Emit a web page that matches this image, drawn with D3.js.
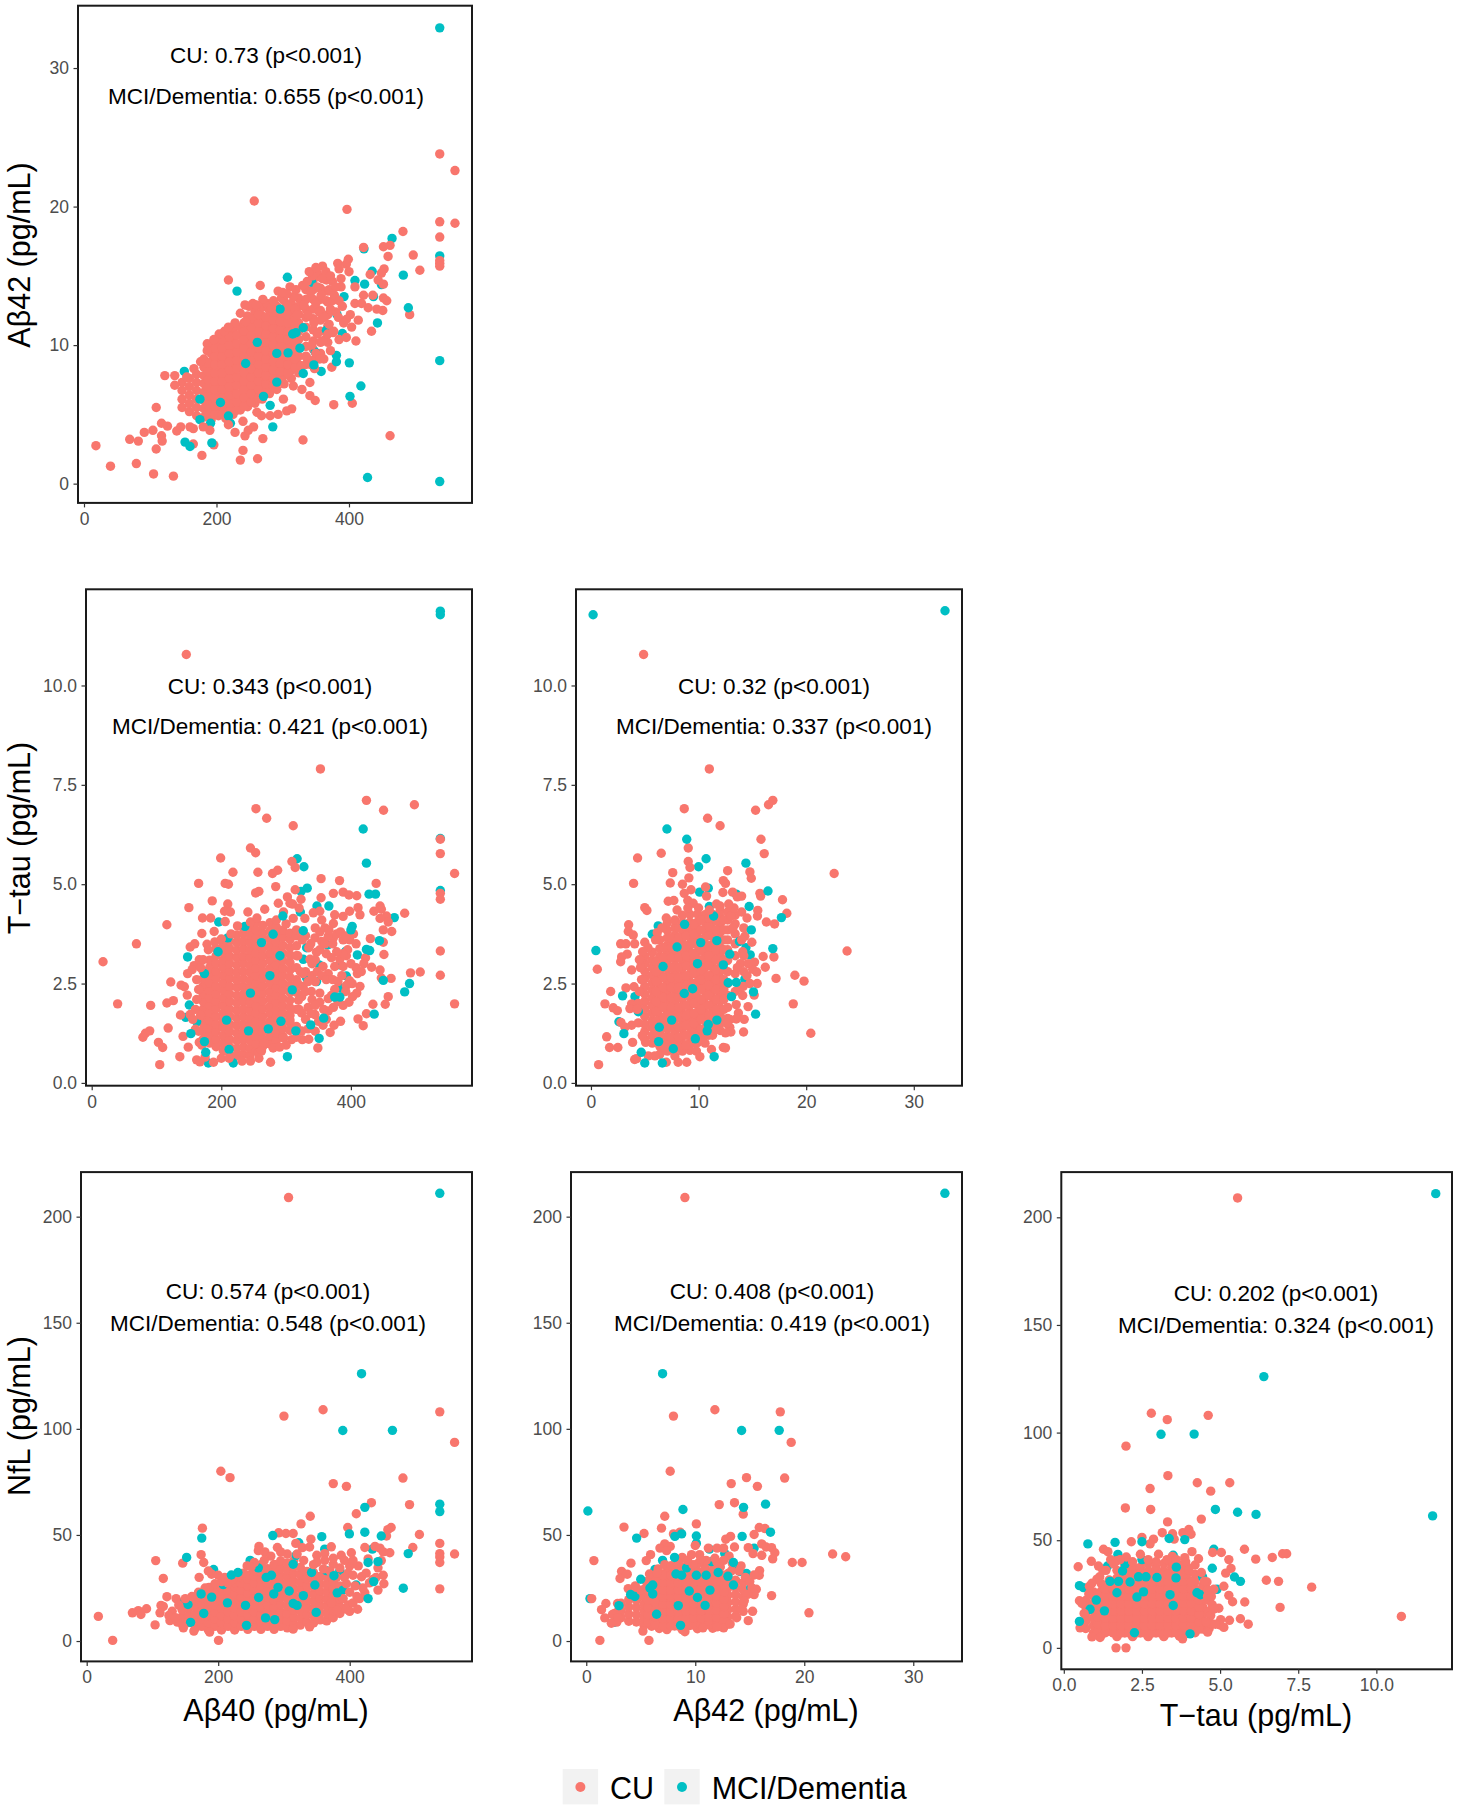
<!DOCTYPE html>
<html><head><meta charset="utf-8">
<script src="https://cdn.jsdelivr.net/npm/d3@7"></script>
<style>html,body{margin:0;padding:0;background:#fff}svg{display:block}text{font-family:"Liberation Sans",Arial,sans-serif}</style>
</head><body><div id="c"></div>
<script>
// All values are estimates. In the solid blobs individual points cannot be
// resolved, so those columns ([x, y, y, ...]) are hand-read estimates of the covered area.
const colors={CU:"#F8766D",MCI:"#00BFC4"};
const ticksAb40=[0,200,400], ticksAb42=[0,10,20,30], ticksTau=[0,2.5,5,7.5,10], ticksNfl=[0,50,100,150,200];

// --- Aβ42 vs Aβ40
const p1CU=[[18,2.74],[40,1.26],[69,3.2],[82,3.07],[79,1.45],[91,3.7],[104,3.85],[105,.7],[109,2.5],[109,5.5],[117,3.46],[118,3.07],[117,4.36],[126,4.15],[135,.54],[122,7.8],[137,7.8],[137,7.1],[537,23.8],[560,22.6],[537,18.9],[560,18.8],[537,17.8],[537,16.1],[537,15.9],[537,15.7],[257,20.4],[397,19.8],[481.5,18.2],[497,16.5],[507,15.4],[491.6,12.2],[462,3.46],[405,5.8],[377,5.7],[330.6,3.15],[262,1.8],[236,1.7],[240,2.4],[270,3.25],[178,2.04],[196,2.8],[165,2.86],[218,14.7],[266,14.3],[293,13.9],[311,14.2],[452,17.1],[462,17.2],[459,16.4],[422,17.05],[399,16.2],[383,15.9],[396,15.85],[385,15.5],[400,15.3],[388,14.8],[388,14.2],[409,14.2],[453,15.5],[432,15.1],[449,15.2],[444,14.7],[452,14.4],[422,13.6],[436,13.6],[452,13.4],[457,13.2],[409,13],[419,13],[429,12.7],[442,12.6],[451,12.5],[414,11.8],[402,12.2],[396,11.85],[404,11.3],[434,11],[410.5,10.3],[385,10.4],[396,10.55],[374,8.4],[349,6],[341,6.35],[341,7.3],[329,6.8],[316,7.05],[313.5,5.4],[301,6.1],[293,5],[306,5.25],[281,4.9],[268,4.9],[261,5.15],[256,4.1],[243,3.45],[248,3.85],[240,4.5],[228,3.7],[218,4.25],[190,3.85],[180,4.1],[165,3.97],[160,4.1],[146,4.1],[140,3.8],[255,13],[249,12.8],[243,12.9],[276,13],[283,12.7],[298,13.4],[360,15.7],[352,15.2],[366,14.7],[370,14],[375,13.2],[380,12.4],[384,12],[364,10.4],[372,9.6],[362,9],[348,8.3],[377,11],[186,10.1],[204,10.8],[212,11],[224,11.3],[244,11.7],[330,14.3],[337,14.6],[345,15],[352,14.2],[360,14.8],[358,13.6],[366,13.2],[372,12.6],[378,13.6],[350,13],[342,13.8],[332,12.9],[338,12.2],[347,11.6],[355,12.4],[363,12],[370,11.5],[376,10.9],[352,10.8],[360,10.3],[368,10.8],[344,10],[350,9.4],[336,9.1],[328,8.5],[342,8.6],[356,9],[322,12.2],[316,13.5],[306,13.7],[286,13.2],[270,13.3],[260,12.9],[236,12.3],[228,11.6],[218,11.3],[196,10.4],[186,9.6],[176,8.8],[166,8.3],[155,7.7],[300,13.8],[320,14],[340,15.3],[350,15.6],[365,15.3],[375,14.6],[380,14.2],[372,15],[385,13.2],[390,12.8],[392,11.6]];
const p1CUblob=[[148,5.5,6.1,6.72,7.3],[159,5.2,5.78,6.4,7,7.6],[170,4.9,5.5,6.1,6.72,7.3,7.9],[181,4.8,5.42,6,6.6,7.22,7.8,8.4,9],[192,4.62,5.2,5.8,6.42,7,7.6,8.2,8.82,9.4,10],[203,4.9,5.5,6.12,6.7,7.3,7.9,8.52,9.1,9.7,10.3],[214,4.7,5.3,5.9,6.5,7.12,7.7,8.3,8.9,9.5,10.12,10.7],[225,5,5.6,6.22,6.8,7.4,8,8.62,9.2,9.8,10.4,11],[236,5.32,5.9,6.5,7.1,7.7,8.32,8.9,9.5,10.1,10.72,11.3],[247,5.55,6.15,6.75,7.35,7.95,8.55,9.15,9.75,10.35,10.95,11.55,12.1],[258,5.8,6.4,7.02,7.6,8.2,8.8,9.42,10,10.6,11.2,11.82,12.4],[269,6.1,6.7,7.3,7.92,8.5,9.1,9.7,10.32,10.9,11.5,12.1,12.72],[280,6.5,7.1,7.7,8.3,8.92,9.5,10.1,10.7,11.32,11.9,12.5],[291,6.8,7.4,8,8.6,9.2,9.82,10.4,11,11.6,12.22,12.8],[302,7.2,7.8,8.4,9,9.62,10.2,10.8,11.4,12.02,12.6,13.2],[313,7.6,8.2,8.8,9.42,10,10.6,11.2,11.82,12.4,13],[324,8,8.6,9.2,9.82,10.4,11,11.6,12.22,12.8,13.4],[335,8.6,9.2,9.9,10.6,11.3,12,12.6,13.3,14],[346,8.9,9.7,10.3,11.1,11.9,12.6,13.3,14,14.7],[357,9.4,10.2,11,11.8,12.5,13.3,14.1,14.9],[368,10.2,11.4,12.2,13.1,13.9],
 [187,5.1,5.7,6.3,6.9,7.5,8.1,8.7],[197.5,5,5.6,6.2,6.8,7.4,8,8.6,9.2,9.8],[208.5,5,5.6,6.2,6.8,7.4,8,8.6,9.2,9.8,10.4],[219.5,5.2,5.8,6.4,7,7.6,8.2,8.8,9.4,10,10.6],[230.5,5.3,5.9,6.5,7.1,7.7,8.3,8.9,9.5,10.1,10.7],[241.5,5.6,6.2,6.8,7.4,8,8.6,9.2,9.8,10.4,11,11.6],[252.5,5.9,6.5,7.1,7.7,8.3,8.9,9.5,10.1,10.7,11.3,11.9],[263.5,6.2,6.8,7.4,8,8.6,9.2,9.8,10.4,11,11.6,12.2],[274.5,6.6,7.2,7.8,8.4,9,9.6,10.2,10.8,11.4,12],[285.5,7,7.6,8.2,8.8,9.4,10,10.6,11.2,11.8,12.4],[296.5,7.5,8.1,8.7,9.3,9.9,10.5,11.1,11.7,12.3],[307.5,8,8.6,9.2,9.8,10.4,11,11.6,12.2,12.8],[318.5,8.4,9,9.6,10.2,10.8,11.4,12,12.6]];
const p1MCIunder=[[537,16.44],[465,17.7],[435,15.33],[409,14.66],[423.6,14.4],[449,14.37],[343.6,14.55],[392.5,13.5],[437,13.5],[443,11.6],[382,12.2],[390,10.84],[366,11.07],[331,11.25],[296,12.6],[261.6,10.2],[381,9.26],[400.5,8.72],[358,8.1],[151.4,8.1],[175,6.1],[218,4.88],[175,4.62],[191,4.36],[221,4.36],[281,5.65],[349,9.5],[291,9.4],[422.6,16.95]];
const p1MCIover=[[537,32.9],[537,8.88],[537,.15],[428,.44],[482,15.05],[307,14.9],[231,13.9],[489.6,12.7],[315,10.8],[320,10.9],[308,9.44],[326,9.78],[381,8.8],[347,8.57],[331,7.95],[244,8.67],[291,7.33],[418,7.05],[401.5,6.3],[271,6.3],[206,5.86],[285,4.1],[152.5,3],[160,2.68],[193,2.94]];

// --- T-tau vs Aβ40
const p2CU=[[146,10.78],[353,7.9],[424,7.11],[498,7],[450.4,6.86],[253.5,6.9],[270,6.66],[311,6.47],[538,6.13],[538,5.77],[538,4.77],[538,4.62],[538,3.32],[538,2.71],[560,5.27],[560,1.99],[507,2.79],[492,2.77],[483,4.27],[245,5.91],[253,5.79],[199,5.66],[309,5.57],[314,5.42],[287,5.35],[279,5.27],[256.5,5.3],[218,5.3],[354,5.14],[382.5,5.09],[439,5.02],[165,5.02],[206,5.02],[211,5],[284,4.94],[314,4.86],[253,4.78],[258,4.82],[373,4.77],[388,4.8],[397,4.73],[409,4.71],[354,4.66],[302,4.68],[323,4.62],[186,4.58],[210,4.5],[288,4.52],[306,4.52],[150,4.41],[445,4.45],[435.5,4.32],[447,4.37],[205,4.32],[214,4.3],[241,4.3],[267,4.37],[171,4.15],[183.5,4.15],[206,4.06],[116,3.98],[455,4.2],[445,4.14],[457.6,4.05],[463,3.81],[450,3.85],[170,3.76],[189,3.81],[69,3.5],[152,3.42],[159,3.5],[178,3.49],[17.5,3.05],[40,1.99],[91,1.95],[116,2.01],[126,2.07],[122,2.54],[138,2.46],[143,2.42],[147.5,2.21],[79,1.15],[83,1.25],[89.5,1.31],[103,1.02],[109.5,.89],[105,.46],[118,1.38],[136,.66],[149,.9],[141,1.17],[137,1.71],[152,1.72],[162,.58],[167,.53],[188,.52],[166,1.02],[276,.52],[349,.88],[368,1.27],[374,1.45],[384,1.55],[411,1.61],[419,1.44],[424,1.74],[434,1.98],[453,1.98],[457.6,2.17],[447,2.64],[462,2.63],[414,2.43],[409,2.26],[402.6,2.17],[397,2.03],[432,2.91],[445,2.84],[451,3.23],[422.6,3.15],[450,3.54],[430,3.63],[410,2.75],[398,2.57],[373,1.9],[365,1.81],[357,1.45],[344.5,1.72],[334,1.9],[324,1.76],[325,1.09],[308.5,1.09],[296,1.13],[280,.88],[266,1],[257,.75],[393,3.2],[383,3.11],[373,3.65],[365,3.69],[398,3.6],[388,3.6],[373,4.01],[375,4.23],[388,4.19],[398,4.32],[411,4.41],[414,4.23],[352,4.32],[342,4.28],[355,4.1],[329,4.14],[311,4.14],[344.5,3.65],[355,3.56],[337,3.11],[347,3.29],[357,2.93],[365,2.75],[375,2.93],[388,2.93],[375,2.35],[352,2.26],[339,2.3],[326,2.43],[324,2.17],[319,2.08],[352,2.03],[365,2.12],[306,1.58],[324,1.31],[334,1.36],[162,2.6],[158,2.95],[166,3.1],[155,2.85],[148,2.75],[160,1.85],[156,1.6],[160,1.35],[170,.95],[330,2.8],[335,3.4],[330,3.7],[345,2.55],[340,3],[362,3.25],[320,4.4],[310,4.5],[325,3.6],[318,3.2],[322,2.8],[318,2.5],[326,2.75],[330,2.3],[334,2.55],[340,2.7],[338,3.5],[345,3.9],[352,3.8],[360,3.9],[366,3.85],[372,3.5],[378,3.75],[384,3.8],[392,3.7],[404,3.75],[408,3.5],[395,3.35],[388,3.25],[378,3.3],[370,3.15],[360,3.5],[352,3.35],[345,3.1],[348,2.8],[355,2.7],[362,2.6],[372,2.6],[380,2.55],[386,2.7],[393,2.45],[402,2.5],[408,2.9],[416,2.8],[420,3],[400,3],[340,2.1],[345,1.95],[358,1.85],[370,2.2],[380,2.05],[388,1.95],[392,2.3],[320,1.85],[330,1.6],[338,1.75],[350,1.55],[362,1.6],[345,1.3],[316,1.15],[335,1.1],[300,.95],[290,.9],[262,.8],[200,.62],[212,.62],[232,.55],[245,.55],[258,.62],[175,.65],[165,1.3],[168,1.7],[162,2.1],[165,2.35],[168,2.9],[172,3.1],[180,3.35],[190,3.55],[200,3.62],[215,3.75],[225,3.95],[245,4.05],[255,4.15],[285,4.1],[300,4],[296,4.3]];
const p2CUblob=[[172,1.1,1.29,1.49,1.67,1.86,2.05,2.24,2.44,2.62,2.81],[182,1,1.19,1.38,1.57,1.77,1.95,2.14,2.33,2.52,2.72,2.9,3.09],[192,.91,1.1,1.29,1.48,1.67,1.87,2.05,2.24,2.43,2.62,2.81,3,3.2,3.38],[203,.81,1,1.19,1.39,1.57,1.76,1.95,2.14,2.34,2.52,2.71,2.9,3.09,3.28,3.47],[213,.72,.91,1.1,1.29,1.48,1.68,1.86,2.05,2.24,2.43,2.63,2.81,3,3.19,3.38,3.57],[224,.68,.87,1.06,1.25,1.44,1.63,1.82,2.01,2.2,2.4,2.58,2.77,2.96,3.15,3.34,3.53,3.72],[234,.72,.91,1.11,1.29,1.48,1.67,1.86,2.06,2.24,2.43,2.62,2.81,3.01,3.19,3.38,3.57,3.76,3.9],[244,.68,.87,1.06,1.25,1.45,1.63,1.82,2.01,2.2,2.39,2.58,2.78,2.96,3.15,3.34,3.53,3.72,3.92],[254,.8,.99,1.18,1.37,1.56,1.76,1.94,2.13,2.32,2.51,2.7,2.89,3.09,3.27,3.46,3.65,3.84,4.04],[264,.92,1.11,1.3,1.49,1.68,1.87,2.06,2.26,2.44,2.63,2.82,3.01,3.2,3.39,3.59,3.77,3.96],[275,.98,1.17,1.36,1.55,1.75,1.93,2.12,2.31,2.5,2.69,2.88,3.08,3.26,3.45,3.64,3.83,4.03],[285,1.07,1.26,1.45,1.64,1.83,2.03,2.21,2.4,2.59,2.78,2.97,3.16,3.36,3.54,3.73,3.92],[295,1.18,1.37,1.56,1.75,1.94,2.13,2.33,2.51,2.7,2.89,3.08,3.27,3.46,3.66,3.84],[306,1.32,1.51,1.7,1.89,2.08,2.28,2.46,2.65,2.84,3.03,3.22,3.41,3.61,3.77],[316,1.42,1.85,2.28,2.6,2.9,3.2,3.45,3.7,3.85]];
const p2MCIunder=[[538,6.15],[317,5.64],[327.5,5.44],[332.6,4.9],[323,4.82],[428,4.75],[438,4.75],[538,4.84],[347.6,4.45],[366,4.45],[322,4.3],[467,4.16],[196,4.05],[236.5,3.94],[210,3.65],[280,3.74],[364,3.47],[331.6,3.4],[392,3.31],[195,3.3],[410,3.22],[290.5,3.2],[326.5,3.11],[383,2.97],[351,2.97],[174,2.75],[275,2.7],[393,2.69],[331.6,2.64],[347,2.55],[384,2.39],[150.6,1.96],[145,1.65],[162,1.54],[208,1.58],[242,1.31],[272.5,1.36],[212,.84],[218.5,.5],[180,.5]];
const p2MCIover=[[538,11.87],[538,11.78],[419,6.39],[424,5.53],[402,3.94],[400,3.85],[326.5,3.83],[262,3.53],[444,3.58],[424,3.36],[429,3.33],[148,3.17],[450,2.58],[490.5,2.5],[483,2.29],[309.5,2.34],[245,2.26],[375,2.16],[383,2.16],[358,1.63],[436,1.73],[292,1.55],[338,1.46],[315,1.31],[153,1.24],[351,1.12],[174,1.04],[176,.77],[302,.66],[295,4.2]];

// --- T-tau vs Aβ42
const p3CU=[[4.89,10.78],[11,7.9],[16.9,7.11],[16.5,7],[15.3,6.86],[8.67,6.9],[10.84,6.66],[12,6.47],[15.8,6.13],[16.1,5.77],[6.53,5.78],[9.04,5.91],[4.33,5.66],[9.04,5.57],[9.2,5.42],[7.6,5.29],[14.77,5.31],[12.7,5.34],[22.6,5.27],[14.9,5.15],[12.3,5.09],[9.1,5.16],[12.5,5.02],[3.96,5.02],[7.37,5.03],[8.5,5],[9.3,4.86],[10.65,4.93],[12.26,4.79],[15.7,4.77],[13.16,4.8],[8.67,4.77],[15.77,4.7],[10.74,4.7],[13.6,4.68],[14,4.7],[17.8,4.61],[7.18,4.57],[7.7,4.59],[9,4.59],[9.5,4.52],[11.67,4.5],[5,4.41],[5.2,4.34],[15.5,4.34],[15.47,4.2],[18.2,4.27],[16.3,4.05],[17.06,4],[3.5,3.98],[3.47,3.81],[3.93,3.72],[6.16,3.78],[14.3,3.69],[4.06,3.5],[14.95,3.54],[2.76,3.5],[3.25,3.5],[5,3.54],[23.8,3.32],[3.37,3.24],[2.85,3.17],[2.76,3.05],[4.64,3.06],[16,3.18],[17,3.17],[15.2,3.04],[16.2,2.91],[.59,2.86],[3.78,2.84],[15.03,2.86],[15.4,2.79],[17.2,2.63],[18.95,2.71],[19.8,2.56],[15.45,2.5],[14.77,2.5],[14.15,2.43],[3.25,2.39],[4,2.42],[1.83,2.3],[15.17,2.21],[14.6,1.92],[18.8,1.99],[1.3,1.99],[2.07,1.89],[2.45,1.82],[3.78,1.99],[3.62,1.87],[13.5,1.97],[13.7,1.76],[14.24,1.6],[13.5,1.61],[2.79,1.52],[3.78,1.45],[3.16,1.4],[4.4,1.51],[12.9,1.4],[13,1.28],[12.5,1.26],[14.18,1.28],[20.43,1.25],[1.46,1.16],[4.77,1.19],[3.87,1.02],[5.08,1.02],[1.73,.89],[2.5,.89],[12.3,.89],[12.5,.88],[11.2,.84],[9.8,.8],[10.12,.66],[4.06,.59],[4.24,.61],[.71,.46],[8.9,.52],[8.1,.52],[7,.52],[5.94,.68],[5.33,.68],[4.4,2],[4.5,2.3],[4.3,1.85],[4.7,2.6],[14.2,3.9],[14.5,4.15],[14,4.3],[13.9,3],[14.2,2.8],[14.1,3.3],[13,4.2],[13.3,4.4],[14,3.6],[14.2,3.2],[14.6,3],[14.5,2.7],[14.1,2.2],[13.8,2.4],[13.6,2.9],[13.2,3.9],[12.9,1.6],[12.6,1.5],[5.3,3.4],[4.8,3.3],[4.6,2.9],[4.5,3.1],[6,3.6],[6.6,3.9],[7,4.15],[8,4.35],[9,4.4],[10,4.4],[11,4.35],[12,4.45],[12.8,4.5]];
const p3CUblob=[[5,1.1,1.29,1.48,1.68,1.86,2.05,2.24,2.43,2.63,2.81,3,3.19],[5.7,1,1.19,1.39,1.57,1.76,1.95,2.14,2.34,2.52,2.71,2.9,3.09,3.29],[6.4,.72,.92,1.1,1.29,1.48,1.67,1.87,2.05,2.24,2.43,2.62,2.82,3,3.19,3.38,3.6],[7.1,.8,.99,1.18,1.37,1.56,1.75,1.95,2.13,2.32,2.51,2.7,2.89,3.08,3.28,3.46,3.65,3.84,4.03],[7.8,.68,.87,1.06,1.26,1.44,1.63,1.82,2.01,2.21,2.39,2.58,2.77,2.96,3.16,3.34,3.53,3.72,3.91,4.1],[8.5,.8,.99,1.18,1.37,1.57,1.75,1.94,2.13,2.32,2.52,2.7,2.89,3.08,3.27,3.47,3.65,3.84,4.03,4.22],[9.2,.82,1.01,1.2,1.4,1.58,1.77,1.96,2.15,2.35,2.53,2.72,2.91,3.1,3.3,3.48,3.67,3.86,4.05,4.24],[9.9,1.01,1.2,1.4,1.58,1.77,1.96,2.15,2.35,2.53,2.72,2.91,3.1,3.3,3.48,3.67,3.86,4.05,4.25],[10.6,1,1.2,1.38,1.57,1.76,1.95,2.15,2.33,2.52,2.71,2.9,3.1,3.28,3.47,3.66,3.85,4.05,4.23],[11.3,1.2,1.39,1.58,1.78,1.96,2.15,2.34,2.53,2.73,2.91,3.1,3.29,3.48,3.68,3.86,4.05,4.24],[12,1.32,1.51,1.7,1.89,2.09,2.27,2.46,2.65,2.84,3.04,3.22,3.41,3.6,3.79,3.99,4.18,4.33],[12.7,1.62,1.9,2.2,2.5,2.8,3.08,3.35,3.6,3.85,4.1,4.3],[13.4,2.3,2.75,3.2,3.5,3.75,4,4.22],
 [6.05,1.05,1.3,1.55,1.8,2.05,2.3,2.55,2.8,3.05],[6.75,.9,1.15,1.4,1.65,1.9,2.15,2.4,2.65,2.9,3.15,3.4],[7.45,.9,1.15,1.4,1.65,1.9,2.15,2.4,2.65,2.9,3.15,3.4,3.65],[8.15,.9,1.15,1.4,1.65,1.9,2.15,2.4,2.65,2.9,3.15,3.4,3.65,3.9],[8.85,.95,1.2,1.45,1.7,1.95,2.2,2.45,2.7,2.95,3.2,3.45,3.7,3.95],[9.55,1,1.25,1.5,1.75,2,2.25,2.5,2.75,3,3.25,3.5,3.75,4],[10.25,1.1,1.35,1.6,1.85,2.1,2.35,2.6,2.85,3.1,3.35,3.6,3.85,4.1],[10.95,1.2,1.45,1.7,1.95,2.2,2.45,2.7,2.95,3.2,3.45,3.7,3.95,4.15],[11.65,1.35,1.6,1.85,2.1,2.35,2.6,2.85,3.1,3.35,3.6,3.85,4.1],[12.35,1.6,1.85,2.1,2.35,2.6,2.85,3.1,3.35,3.6,3.85,4.1]];
const p3MCIunder=[[9.9,3],[10.7,5.64],[10,5.44],[10.9,4.9],[10.1,4.8],[13.5,4.75],[11,4.44],[11.4,4.2],[6.25,3.95],[8.7,3.99],[5.7,3.74],[13.8,3.56],[14.4,3.4],[14.8,3.22],[12.9,3.24],[8,3.42],[14.3,2.61],[12.75,2.52],[4.09,2.17],[13.06,2.17],[2.6,1.54],[4.4,1.79],[11.7,1.58],[10.9,1.47],[7.5,1.58],[6.35,1.4],[6.29,1.04],[9.7,1.11],[7.65,.86],[6.7,2.93],[12.3,2.97]];
const p3MCIover=[[.2,11.78],[32.9,11.88],[7.06,6.39],[8.9,6.13],[14.4,5.53],[16.45,4.83],[14.7,4.44],[17.7,4.16],[14.9,3.85],[.46,3.33],[16.9,3.38],[10.2,3.53],[11.7,3.58],[13.5,2.53],[9.45,2.37],[8.67,2.25],[15.1,2.29],[2.94,2.19],[15.3,1.73],[10.8,1.31],[3.06,1.24],[4.67,.77],[11.45,.66],[5,.5],[6.63,.5]];

// --- NfL vs Aβ40
const p4CU=[[307,209],[300,106],[359.5,109],[537,108],[559.5,93.6],[204,80],[218,77],[375,74.2],[395,72.9],[481,76.8],[433,65.2],[491,64.3],[410,60],[340,58.8],[326,55.2],[397,53.5],[463,53.5],[458,52.5],[456,49.5],[176,53.2],[506,50.2],[292,51],[303,50.7],[314,50.7],[341,48],[318,46],[423,44.1],[438.5,44.6],[446,43.8],[496,44.1],[537,46],[537,41.2],[537,39.6],[537,37],[559.5,41],[537,24.6],[262,44.6],[290,44.1],[261,42.6],[328,44],[339,44.3],[372,44.4],[174,40.7],[105,37.9],[146,36.7],[178,37],[402.5,41.6],[387,40.4],[461,41.6],[451,42],[448,37.9],[428,38.7],[350,40.4],[362,41.2],[271,42],[116.5,29.5],[171,30],[190,31.5],[238,32],[244,35.4],[122,20.9],[136,20],[113,16.8],[116.5,16.3],[91,15.2],[78.5,14.3],[69.5,13.3],[82.5,12.5],[111.5,13.3],[17.7,11.6],[39.5,.3],[104,7.6],[200.5,.3],[314,5.6],[339,6.7],[126.6,9.6],[138,8.9],[147,6.2],[163,4.7],[187,4.2],[186,25.3],[215,27.3],[400,14],[411,21],[423,22.7],[430,27.4],[443,24],[452,27],[451,31],[443,34.5],[418,30.3],[413,35.4],[400,35.4],[385,34.5],[375,36.2],[350,37],[408,26],[397.5,32],[390,20],[398,17],[380,14.5],[372,18],[395,27],[395,15],[405,18],[412,15],[420,25],[415,20],[400,23],[392,30],[380,30],[370,33],[360,34],[345,36],[330,38],[320,41],[305,41],[295,42],[280,40],[270,38],[255,37],[250,35],[230,30],[222,29],[205,28],[195,27],[180,25],[170,23],[160,21],[150,20],[140,17],[130,14],[125,12],[135,11],[185,33],[200,31],[210,30],[362,38],[375,39],[392,38],[405,31],[425,32],[435,29],[440,30],[405,38]];
const p4CUblob=[[145,8,11.4,14.8,18.2],[155,8.7,12.1,15.5],[165,6,9.4,12.8,16.2,19.6],[175,6.9,10.3,13.7,17.1,20.5],[185,5.2,8.6,12,15.4,18.8,22.1],[195,6.9,10.2,13.6,17,20.4,23.8],[205,5.2,8.6,12,15.4,18.8,22.2,25],[215,6.9,10.3,13.7,17.1,20.5,23.9,26.2],[225,5.2,8.6,12,15.4,18.8,22.2,25.6,27.5],[235,6.9,10.3,13.7,17.1,20.5,23.9,27.3,29.8],[245,5.5,8.9,12.3,15.7,19.1,22.5,25.9,29.3,31],[255,6.9,10.3,13.7,17.1,20.5,23.9,27.3,30.7,33.2],[265,5.5,8.9,12.3,15.7,19.1,22.5,25.9,29.3,32.7,36],[275,6.9,10.3,13.7,17.1,20.5,23.9,27.3,30.7,34.1],[285,5.5,8.9,12.3,15.7,19.1,22.5,25.9,29.3,32.7,36.1],[295,6.9,10.3,13.7,17.1,20.5,23.9,27.3,30.7,34.1,37.8],[305,6.2,9.6,13,16.4,19.8,23.2,26.6,30,33.4,36.8],[315,7.9,11.3,14.7,18.1,21.5,24.9,28.3,31.7,35.1,38],[325,7.5,10.9,14.3,17.7,21.1,24.5,27.9,31.3,34.7],[335,9,12.4,15.8,19.2,22.6,26,29.4,32.8],[345,8.5,11.9,15.3,18.7,22.1,25.5,28.9,32.3],[355,10,13.4,16.8,20.2,23.6,27,30.4],[365,9.5,12.9,16.3,19.7,23.1,26.5,30],[375,11,14.4,17.8,21.2,24.6,28],[385,13,16.4,19.8,23.2,26]];
const p4MCIunder=[[322.5,46.3],[362,43.3],[434.5,43.3],[318.5,40.4],[248.6,38],[193,33.7],[261,34.5],[314,36.2],[342,32.3],[364.5,33.2],[385,33.2],[207.6,26.6],[291,25.3],[329.5,21.4],[347,26.4],[390,24],[410,26.4],[190,20.7],[261.5,20.5],[149,19],[154,17.2],[214,18],[241.5,16.8],[178,13],[349,13.5],[158,8.8],[286,10.1],[272,10.9],[314,17.7]];
const p4MCIover=[[537,211],[418,126],[389.5,99.2],[465,99.3],[537,64.5],[537,61],[423,63],[399.5,50.5],[423,51.3],[448,49.5],[357.5,49.2],[283,49.7],[175,48.5],[152,39.4],[428,37],[443,37.4],[230,32.3],[376,30.8],[489,41.2],[220,31.1],[273,30],[281,31],[284.5,22.2],[308,23.6],[381,22.7],[436.5,28],[481.5,24.9],[428,20],[174,22.2],[320,16.8],[243,7.4]];

// --- NfL vs Aβ42
const p5CU=[[9.05,209],[8,106],[11.8,109],[17.8,108],[18.8,93.6],[7.7,80],[18.2,76.8],[14.7,77],[13.3,74.2],[15.7,72.9],[13.6,65.2],[12.2,64.3],[14.4,59.8],[7.2,58.8],[3.46,53.7],[6.9,53.2],[10.1,55.2],[15.87,53.5],[16.4,53],[5.3,50.7],[8.6,51.3],[8,50.5],[15.4,50.2],[13.24,49.3],[12.8,48],[10,45],[7.2,45.8],[6.76,43.8],[7.7,44.6],[7.37,42.6],[14.86,44],[13.6,44.3],[16.1,45.8],[16.5,44.3],[17,44],[17.3,41.6],[11.2,43.8],[12,43.8],[12.6,43.8],[15.3,41.2],[16.1,40.4],[22.6,41],[23.8,39.7],[17.1,38.7],[18.9,37],[19.8,37],[.7,37.9],[4.1,36.7],[5.9,40.7],[5.5,37.9],[8.8,39.4],[9.66,40.7],[10.4,40.7],[3.24,32.8],[3.76,31.5],[3.1,29.5],[5.8,31.6],[15.9,33.2],[15.87,31],[14.2,35.4],[15.4,31.1],[3.85,24.7],[15.6,24.4],[15.4,21.9],[17,21.4],[.5,20],[2.87,17.7],[1.8,17.7],[1.4,14.8],[1.7,10.9],[2.8,8.9],[2.3,8.4],[15.26,14],[14.86,9.6],[20.43,13.3],[1.25,.3],[5.75,.3],[12.6,6.2],[12,6.7],[10.7,6.2],[9.05,4.4],[5.2,4.7],[6.6,34],[7.2,36],[9.8,36],[11,38],[12,37],[13.1,40],[4.5,26],[5,24],[5.5,28],[6.5,32],[7.8,35.5],[8.4,37],[9.3,38],[10.5,38.5],[11.8,39],[12.6,38],[13.4,36.5],[13.3,33],[14,33],[14.6,30],[15,28],[15.2,25],[14.8,22],[14.5,19],[14.2,15],[13.8,11],[13.2,8],[2.6,13],[3,15],[2.4,12.5],[2.9,11]];
const p5CUblob=[[3.2,11,14.4,17.8],[3.9,9.3,12.7,16.1,19.5],[4.6,9,12.4,15.8,19.2,22.6],[5.3,7.3,10.7,14.1,17.5,20.9,24.3],[6,7,10.4,13.8,17.2,20.6,24,27.4,30],[6.7,5.9,9.3,12.7,16.1,19.5,22.9,26.3,29.7,32],[7.4,5.4,8.8,12.2,15.6,19,22.4,25.8,29.2,32.6],[8.1,7.1,10.5,13.9,17.3,20.7,24.1,27.5,30.9,34],[8.8,5.4,8.8,12.2,15.6,19,22.4,25.8,29.2,32.6,35],[9.5,7.3,10.7,14.1,17.5,20.9,24.3,27.7,31.1,34.5],[10.2,5.8,9.2,12.6,16,19.4,22.8,26.2,29.6,33,36.4],[10.9,7.5,10.9,14.3,17.7,21.1,24.5,27.9,31.3,34.7,37.5],[11.6,6,9.4,12.8,16.2,19.6,23,26.4,29.8,33.2,36.6],[12.3,7.7,11.1,14.5,17.9,21.3,24.7,28.1,31.5,34.9],[13,8,11.4,14.8,18.2,21.6,25,28.4,31.8],[13.7,11.7,15.1,18.5,21.9,25.3,28.7],[14.4,14,17.4,20.8,24.2,27.6],
 [5.65,9,12.4,15.8,19.2,22.6],[6.35,7.9,11.3,14.7,18.1,21.5,24.9,28.3],[7.05,7.1,10.5,13.9,17.3,20.7,24.1,27.5,30.9],[7.75,7.1,10.5,13.9,17.3,20.7,24.1,27.5,30.9],[8.45,7.1,10.5,13.9,17.3,20.7,24.1,27.5,30.9],[9.15,7.2,10.6,14,17.4,20.8,24.2,27.6,31],[9.85,7.5,10.9,14.3,17.7,21.1,24.5,27.9,31.3],[10.55,7.5,10.9,14.3,17.7,21.1,24.5,27.9,31.3],[11.25,7.7,11.1,14.5,17.9,21.3,24.7,28.1,31.5],[11.95,7.7,11.1,14.5,17.9,21.3,24.7,28.1,31.5],[12.65,9.5,12.9,16.3,19.7,23.1,26.5,29.9]];
const p5MCIunder=[[10.1,46],[15.4,43.8],[11.3,43.3],[12.7,41.2],[7,38],[11.5,37.4],[6.3,33.7],[9.2,34.5],[13.5,34.5],[14.1,32.8],[14.7,31.8],[8.23,31.6],[8.75,31],[10.1,31],[11,31],[12.1,32.3],[13.5,26.4],[15.1,25.2],[11.35,24],[4.46,21],[10.2,20.5],[.34,20],[6.1,22.2],[10.9,16.8],[8.44,16.7],[6.45,12.6],[2.54,8.8]];
const p5MCIover=[[32.9,211],[7,126],[14.25,99.2],[17.7,99.3],[16.45,64.5],[14.43,63],[8.87,62],[.15,61.3],[16.9,51.3],[8.75,50.5],[10.1,49.5],[14.3,49.3],[8.13,49.3],[4.62,48.5],[8.1,39.4],[13.5,37],[13,30.5],[5,29.1],[6.1,26.4],[5.84,25],[9.45,23.6],[4.07,21.9],[3,16.7],[8.65,7.4]];

// --- NfL vs T-tau
const p6CU=[[5.56,209],[10.8,14.6],[2.8,109],[3.31,106],[4.62,108],[1.99,93.7],[3.33,80],[4.27,76.7],[5.31,76.7],[2.76,74],[4.7,72.8],[1.97,65],[2.78,64.3],[4.4,59.8],[3.32,58.5],[3.15,53.5],[3.48,53],[3.81,53.5],[4,55],[4.07,52.8],[2.5,51.3],[2.87,50.5],[2.76,48.3],[3.53,50.5],[2.16,49.3],[1.27,45.8],[1.41,44.7],[5.78,45.8],[4.1,44.7],[4.76,44.3],[5.04,44.3],[7,43.7],[7.13,43.7],[6.67,42],[5.28,41],[6.14,41.2],[2.45,43.5],[3.03,43.5],[2,42.2],[1.7,40.5],[.88,40.2],[3.87,41.9],[4.31,41.4],[3.47,42.5],[.46,37.7],[1.11,38],[5.35,36.9],[5.18,34.7],[6.48,31.4],[6.87,30.9],[7.93,28.2],[1.06,31.9],[4.58,30.6],[5.12,28.6],[.82,28.6],[4.8,27.2],[5.28,24.4],[4.72,23.9],[5.4,21.4],[5.79,21.3],[.5,21.9],[.58,20.6],[6.92,18.8],[4.96,18.4],[5.65,13.5],[5.3,12.8],[5.02,13.1],[5,10.6],[5.9,11],[5.12,9.5],[4.6,7.3],[1.67,0],[1.99,0],[3.8,4.2],[.52,9.3],[1.16,4.8],[.9,5.1],[4.7,15],[4.75,20],[4.6,24],[4.55,12],[4.2,38.5],[1.5,41],[1.25,36],[1.8,41],[2.2,40],[2.7,41],[3.3,41],[3.6,41],[3.9,40],[4,36],[4.4,35],[4.5,31],[4.6,27],[4.8,18],[4.85,11],[.8,25],[.72,13],[.6,11],[.65,16],[.9,30],[1.15,33],[1.35,36],[1.6,39]];
const p6CUblob=[[.7,9,12.4,15.8,19.2,22],[.95,7,10.4,13.8,17.2,20.6,24,26],[1.2,6,9.4,12.8,16.2,19.6,23,26.4,29.8],[1.45,7.7,11.1,14.5,17.9,21.3,24.7,28.1,31.5],[1.7,5.2,8.6,12,15.4,18.8,22.2,25.6,29,32.4,36],[1.95,6.9,10.3,13.7,17.1,20.5,23.9,27.3,30.7,34.1,37.5,39.5],[2.2,5.2,8.6,12,15.4,18.8,22.2,25.6,29,32.4,35.8,38],[2.45,6.9,10.3,13.7,17.1,20.5,23.9,27.3,30.7,34.1,37.5],[2.7,5.2,8.6,12,15.4,18.8,22.2,25.6,29,32.4,35.8,39.2],[2.95,6.9,10.3,13.7,17.1,20.5,23.9,27.3,30.7,34.1,37.5,40],[3.2,5.2,8.6,12,15.4,18.8,22.2,25.6,29,32.4,35.8,39.2],[3.45,6.9,10.3,13.7,17.1,20.5,23.9,27.3,30.7,34.1,37.5,40],[3.7,5.4,8.8,12.2,15.6,19,22.4,25.8,29.2,32.6,36,38.5],[3.95,7.1,10.5,13.9,17.3,20.7,24.1,27.5,30.9,34.3,37.5],[4.2,7,10.4,13.8,17.2,20.6,24,27.4,30.8,34.2],[4.45,8.7,12.1,15.5,18.9,22.3,25.7,29],[4.65,9,12.4,17,22],
 [1.08,7.6,11,14.4,17.8,21.2,24.6],[1.33,7,10.4,13.8,17.2,20.6,24,27.4],[1.58,6.9,10.3,13.7,17.1,20.5,23.9,27.3,30.7],[1.83,6.9,10.3,13.7,17.1,20.5,23.9,27.3,30.7,34.1],[2.08,6.9,10.3,13.7,17.1,20.5,23.9,27.3,30.7,34.1],[2.33,6.9,10.3,13.7,17.1,20.5,23.9,27.3,30.7,34.1],[2.58,6.9,10.3,13.7,17.1,20.5,23.9,27.3,30.7,34.1],[2.83,6.9,10.3,13.7,17.1,20.5,23.9,27.3,30.7,34.1],[3.08,6.9,10.3,13.7,17.1,20.5,23.9,27.3,30.7,34.1],[3.33,6.9,10.3,13.7,17.1,20.5,23.9,27.3,30.7,34.1],[3.58,7,10.4,13.8,17.2,20.6,24,27.4,30.8,34.2],[3.83,7.1,10.5,13.9,17.3,20.7,24.1,27.5,30.9,34.3],[4.08,7,10.4,13.8,17.2,20.6,24,27.4,30.8],[4.33,8.7,12.1,15.5,18.9,22.3,25.7]];
const p6MCIunder=[[4.8,45.8],[1.73,43.4],[2.5,41],[3.5,43],[1.4,38],[1.96,38.9],[4.44,33],[4.9,27.2],[4.37,24.7],[2.55,26],[1.7,25.6],[3.4,24.7],[.84,17.9],[1.3,17.2],[3.5,19.7],[4.04,6.5],[.63,28]];
const p6MCIover=[[11.9,211],[6.4,126],[3.11,99.2],[4.17,99.3],[4.85,64.3],[5.56,63],[6.15,62],[11.8,61.3],[.77,48.3],[1.64,49],[2.5,49.3],[3.37,50.8],[3.87,50.3],[3.6,37.5],[4.75,37],[1.88,35.7],[2.98,32.7],[5.46,32.9],[5.65,30.9],[1.48,30.9],[1.75,30.9],[2.12,30.6],[2.39,33],[2.63,33],[3.59,32.5],[.5,28.9],[4.26,25.6],[2.34,23.6],[1.04,22.2],[.5,12.3],[2.26,7]];

const yTitles={ab42:"Aβ42 (pg/mL)",tau:"T−tau (pg/mL)",nfl:"NfL (pg/mL)"};
const xTitles={ab40:"Aβ40 (pg/mL)",ab42:"Aβ42 (pg/mL)",tau:"T−tau (pg/mL)"};
const expand=c=>c.flatMap(([x,...ys])=>ys.map(y=>[x,y]));
const fmtTau=d3.format(".1f"), fmtInt=d3.format("d");

const panels=[
 {box:[78,472,5.7,502.9],xd:[-9.06,585.7],yd:[-1.39,34.5],xt:ticksAb40,yt:ticksAb42,xf:fmtInt,yf:fmtInt,
  cu:p1CU,blob:p1CUblob,under:p1MCIunder,over:p1MCIover,
  ann:["CU: 0.73 (p<0.001)","MCI/Dementia: 0.655 (p<0.001)"],ax:266,ay:[55.4,96.4],yTitle:[yTitles.ab42,255]},
 {box:[86,472,589.3,1085.7],xd:[-8.8,586.9],yd:[-.07,12.42],xt:ticksAb40,yt:ticksTau,xf:fmtInt,yf:fmtTau,
  cu:p2CU,blob:p2CUblob,under:p2MCIunder,over:p2MCIover,
  ann:["CU: 0.343 (p<0.001)","MCI/Dementia: 0.421 (p<0.001)"],ax:270,ay:[686,726],yTitle:[yTitles.tau,838]},
 {box:[576,962,589.3,1085.7],xd:[-1.39,34.48],yd:[-.07,12.42],xt:ticksAb42,yt:ticksTau,xf:fmtInt,yf:fmtTau,
  cu:p3CU,blob:p3CUblob,under:p3MCIunder,over:p3MCIover,
  ann:["CU: 0.32 (p<0.001)","MCI/Dementia: 0.337 (p<0.001)"],ax:774,ay:[686,726]},
 {box:[81,472,1172.1,1661.4],xd:[-8.67,586],yd:[-9.6,221],xt:ticksAb40,yt:ticksNfl,xf:fmtInt,yf:fmtInt,
  cu:p4CU,blob:p4CUblob,under:p4MCIunder,over:p4MCIover,
  ann:["CU: 0.574 (p<0.001)","MCI/Dementia: 0.548 (p<0.001)"],ax:268,ay:[1291.8,1323],yTitle:[yTitles.nfl,1416],xTitle:[xTitles.ab40,276,1710]},
 {box:[571,962,1172.1,1661.4],xd:[-1.4,34.47],yd:[-9.6,221],xt:ticksAb42,yt:ticksNfl,xf:fmtInt,yf:fmtInt,
  cu:p5CU,blob:p5CUblob,under:p5MCIunder,over:p5MCIover,
  ann:["CU: 0.408 (p<0.001)","MCI/Dementia: 0.419 (p<0.001)"],ax:772,ay:[1291.8,1323],xTitle:[xTitles.ab42,766,1710]},
 {box:[1061.3,1452,1172.1,1669.3],xd:[-.08,12.42],yd:[-9.96,221],xt:ticksTau,yt:ticksNfl,xf:fmtTau,yf:fmtInt,
  cu:p6CU,blob:p6CUblob,under:p6MCIunder,over:p6MCIover,
  ann:["CU: 0.202 (p<0.001)","MCI/Dementia: 0.324 (p<0.001)"],ax:1276,ay:[1293.6,1325.7],xTitle:[xTitles.tau,1256,1715]}
];

const svg=d3.select("#c").append("svg").attr("width",1458).attr("height",1810);
panels.forEach((p,i)=>{
  const [l,r,t,b]=p.box;
  const x=d3.scaleLinear().domain(p.xd).range([l,r]);
  const y=d3.scaleLinear().domain(p.yd).range([b,t]);
  const g=svg.append("g");
  const clipId="clip"+i;
  g.append("clipPath").attr("id",clipId).append("rect").attr("x",l).attr("y",t).attr("width",r-l).attr("height",b-t);
  const pts=g.append("g").attr("clip-path",`url(#${clipId})`);
  const draw=(data,col)=>pts.append("g").selectAll("circle").data(data).join("circle")
     .attr("cx",d=>x(d[0])).attr("cy",d=>y(d[1])).attr("r",4.7).attr("fill",col);
  draw(expand(p.blob),colors.CU);
  draw(p.under,colors.MCI);
  draw(p.cu,colors.CU);
  draw(p.over,colors.MCI);
  g.append("rect").attr("x",l).attr("y",t).attr("width",r-l).attr("height",b-t)
    .attr("fill","none").attr("stroke","#1a1a1a").attr("stroke-width",2);
  const ax=g.append("g").attr("transform",`translate(0,${b})`)
    .call(d3.axisBottom(x).tickValues(p.xt).tickFormat(p.xf).tickSize(4.5).tickPadding(5));
  const ay=g.append("g").attr("transform",`translate(${l},0)`)
    .call(d3.axisLeft(y).tickValues(p.yt).tickFormat(p.yf).tickSize(4.5).tickPadding(4.5));
  [ax,ay].forEach(a=>{a.select(".domain").remove();
    a.selectAll("line").attr("stroke","#333").attr("stroke-width",1.2);
    a.selectAll("text").attr("fill","#4D4D4D").style("font-size","17.5px").style("font-family",'"Liberation Sans",Arial,sans-serif');});
  p.ann.forEach((s,k)=>g.append("text").attr("x",p.ax).attr("y",p.ay[k]).attr("text-anchor","middle")
    .attr("dominant-baseline","central").attr("fill","#000").style("font-size","22.5px").text(s));
  if(p.yTitle) g.append("text").attr("transform",`translate(19,${p.yTitle[1]}) rotate(-90)`).attr("text-anchor","middle")
    .attr("dominant-baseline","central").attr("fill","#000").style("font-size","30.5px").text(p.yTitle[0]);
  if(p.xTitle) g.append("text").attr("x",p.xTitle[1]).attr("y",p.xTitle[2]).attr("text-anchor","middle")
    .attr("dominant-baseline","central").attr("fill","#000").style("font-size","30.5px").text(p.xTitle[0]);
});

// legend
const legendItems=[["CU",colors.CU,562.7,610],["MCI/Dementia",colors.MCI,664.3,711.7]];
const lg=svg.append("g");
legendItems.forEach(([name,col,kx,tx])=>{
  lg.append("rect").attr("x",kx).attr("y",1769).attr("width",35.4).attr("height",35.4).attr("fill","#F2F2F2");
  lg.append("circle").attr("cx",kx+17.7).attr("cy",1787).attr("r",5).attr("fill",col);
  lg.append("text").attr("x",tx).attr("y",1787.5).attr("dominant-baseline","central").attr("fill","#000").style("font-size","30.5px").text(name);
});
</script></body></html>
